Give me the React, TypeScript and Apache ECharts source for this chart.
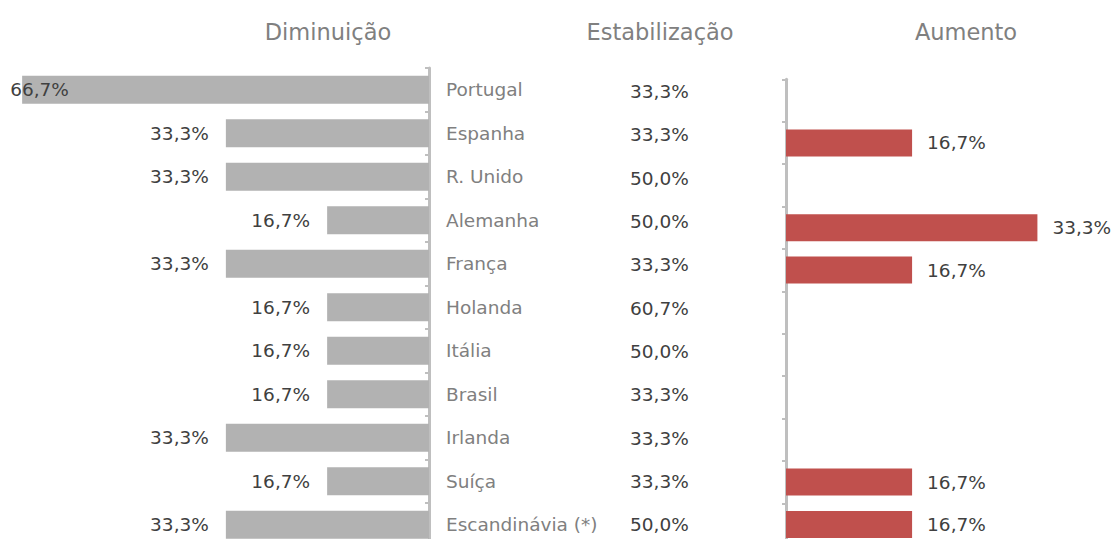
import React, { useEffect, useRef } from "react";
import * as echarts from "echarts";

const countries = [
  "Portugal",
  "Espanha",
  "R. Unido",
  "Alemanha",
  "França",
  "Holanda",
  "Itália",
  "Brasil",
  "Irlanda",
  "Suíça",
  "Escandinávia (*)",
];
const diminuicao = [66.7, 33.3, 33.3, 16.7, 33.3, 16.7, 16.7, 16.7, 33.3, 16.7, 33.3];
const estabilizacao = [33.3, 33.3, 50.0, 50.0, 33.3, 60.7, 50.0, 33.3, 33.3, 33.3, 50.0];
const aumento = [null, 16.7, null, 33.3, 16.7, null, null, null, null, 16.7, 16.7];
const titles = ["Diminuição", "Estabilização", "Aumento"];

const FONT = "DejaVu Sans";
const fmt = (v: number) => v.toFixed(1).replace(".", ",") + "%";

export default function App() {
  const ref = useRef<HTMLDivElement>(null);
  useEffect(() => {
    if (!ref.current) return;
    const chart = echarts.init(ref.current, undefined, { renderer: "svg" });
    const axisGray = "#bfbfbf";
    const valueLabel = {
      show: true,
      color: "#404040",
      fontSize: 18.5,
      fontFamily: FONT,
      formatter: (p: any) => fmt(p.value),
    };
    chart.setOption({
      animation: false,
      graphic: [
        { x: 328, y: 32, text: titles[0] },
        { x: 660, y: 32, text: titles[1] },
        { x: 966, y: 32, text: titles[2] },
      ].map((t) => ({
        type: "text",
        x: t.x,
        y: t.y,
        style: {
          text: t.text,
          fill: "#808080",
          fontSize: 22.5,
          fontFamily: FONT,
          align: "center",
          verticalAlign: "middle",
          textAlign: "center",
          textVerticalAlign: "middle",
        },
      })),
      grid: [
        { left: 2, width: 427, top: 68, height: 478.5 },
        { left: 786, width: 302, top: 79.3, height: 466.4 },
        { left: 630, width: 100, top: 70, height: 476.3 },
      ],
      xAxis: [
        { gridIndex: 0, type: "value", min: 0, max: 70, inverse: true, show: false },
        { gridIndex: 1, type: "value", min: 0, max: 40, show: false },
        { gridIndex: 2, type: "value", min: 0, max: 100, show: false },
      ],
      yAxis: [
        {
          gridIndex: 0,
          type: "category",
          data: countries,
          inverse: true,
          position: "right",
          axisLine: { show: true, lineStyle: { color: axisGray, width: 3 } },
          axisTick: { show: true, inside: true, length: 4, lineStyle: { color: axisGray, width: 2 } },
          axisLabel: { margin: 17, color: "#808080", fontSize: 18.5, fontFamily: FONT },
          splitLine: { show: false },
        },
        {
          gridIndex: 1,
          type: "category",
          data: countries,
          inverse: true,
          position: "left",
          axisLine: { show: true, lineStyle: { color: axisGray, width: 3 } },
          axisTick: { show: true, length: 4, lineStyle: { color: axisGray, width: 2 } },
          axisLabel: { show: false },
          splitLine: { show: false },
        },
        {
          gridIndex: 2,
          type: "category",
          data: countries,
          inverse: true,
          show: false,
        },
      ],
      series: [
        {
          type: "bar",
          xAxisIndex: 0,
          yAxisIndex: 0,
          barWidth: 28,
          itemStyle: { color: "#b2b2b2" },
          data: diminuicao.map((v, i) =>
            i === 0
              ? { value: v, label: { position: "insideLeft", distance: 0, offset: [-12, 0] } }
              : v
          ),
          label: { ...valueLabel, position: "left", distance: 17 },
        },
        {
          type: "bar",
          xAxisIndex: 1,
          yAxisIndex: 1,
          barWidth: 27,
          itemStyle: { color: "#c0504d" },
          data: aumento,
          label: { ...valueLabel, position: "right", distance: 15 },
        },
        {
          type: "bar",
          xAxisIndex: 2,
          yAxisIndex: 2,
          barWidth: 20,
          itemStyle: { color: "rgba(0,0,0,0)" },
          data: estabilizacao,
          label: { ...valueLabel, position: "insideLeft", distance: 0 },
        },
      ],
    });
    return () => chart.dispose();
  }, []);
  return (
    <div
      style={{
        position: "fixed",
        left: 0,
        top: 0,
        width: 1112,
        height: 539,
        overflow: "hidden",
        background: "#fff",
      }}
    >
      <div ref={ref} style={{ width: 1112, height: 570 }} />
    </div>
  );
}
